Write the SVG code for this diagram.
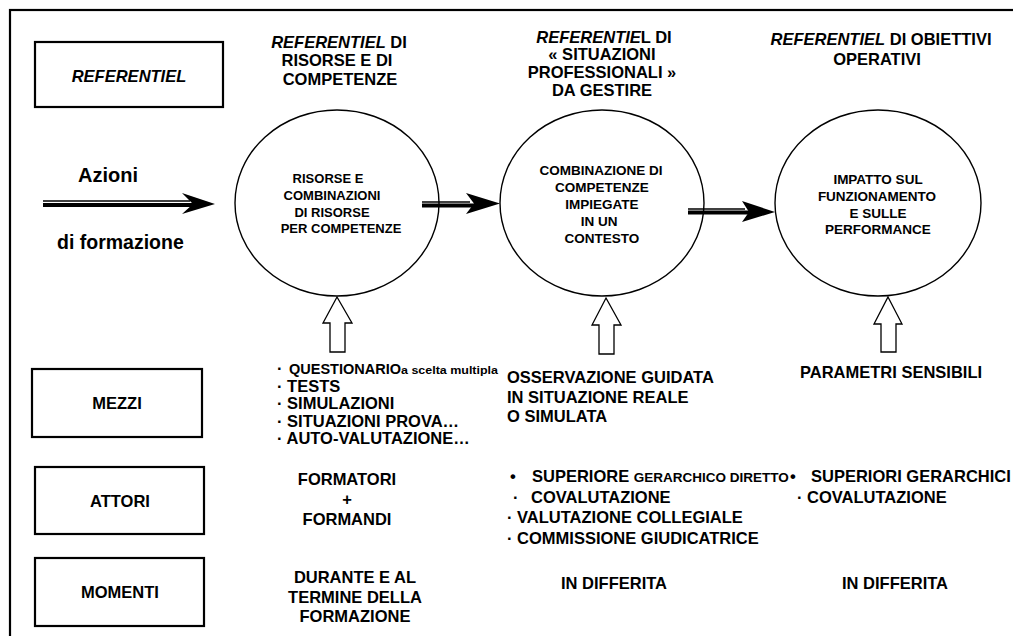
<svg xmlns="http://www.w3.org/2000/svg" width="1013" height="636" viewBox="0 0 1013 636">
  <style>
    text { font-family: "Liberation Sans", Arial, sans-serif; font-weight: bold; fill: #000; }
    .lbl { font-size: 16.5px; text-anchor: middle; }
    .hd { font-size: 16.5px; text-anchor: middle; }
    .el { font-size: 13.5px; text-anchor: middle; }
    .it { font-style: italic; }
    .tx { font-size: 16.5px; }
    .sm { font-size: 13.5px; }
    .box { fill: #fff; stroke: #000; stroke-width: 2.2; }
    .node { fill: #fff; stroke: #000; stroke-width: 1.4; }
    .up { fill: #fff; stroke: #000; stroke-width: 1.3; stroke-linejoin: miter; }
    .thin { stroke: #000; stroke-width: 1.3; fill: none; }
    .thick { stroke: #000; stroke-width: 4; fill: none; }
    .head { fill: #000; stroke: none; }
  </style>

  <!-- outer frame -->
  <rect x="10" y="10" width="1030" height="650" fill="#fff" stroke="#000" stroke-width="2.2"/>

  <!-- row headers -->
  <g id="box-referentiel">
    <rect class="box" x="35" y="42" width="188" height="65"/>
    <text class="lbl it" x="129" y="82">REFERENTIEL</text>
  </g>
  <g id="box-mezzi">
    <rect class="box" x="32" y="369" width="170" height="68"/>
    <text class="lbl" x="117" y="409">MEZZI</text>
  </g>
  <g id="box-attori">
    <rect class="box" x="35" y="467" width="169" height="67"/>
    <text class="lbl" x="120" y="507">ATTORI</text>
  </g>
  <g id="box-momenti">
    <rect class="box" x="35" y="558" width="169" height="68"/>
    <text class="lbl" x="120" y="598">MOMENTI</text>
  </g>

  <!-- column headings -->
  <g id="head-risorse">
    <text class="hd" x="339" y="48"><tspan class="it">REFERENTIEL</tspan>  DI</text>
    <text class="hd" x="337" y="66">RISORSE E DI</text>
    <text class="hd" x="340" y="85">COMPETENZE</text>
  </g>
  <g id="head-situazioni">
    <text class="hd" x="604" y="43"><tspan class="it">REFERENTIE</tspan>L DI</text>
    <text class="hd" x="602" y="60">« SITUAZIONI</text>
    <text class="hd" x="602" y="78">PROFESSIONALI »</text>
    <text class="hd" x="602" y="96">DA GESTIRE</text>
  </g>
  <g id="head-obiettivi">
    <text class="hd" x="881" y="45"><tspan class="it">REFERENTIEL</tspan>  DI OBIETTIVI</text>
    <text class="hd" x="877" y="65">OPERATIVI</text>
  </g>

  <!-- input label -->
  <g id="azioni">
    <text style="font-size:20px" x="78" y="182">Azioni</text>
    <text style="font-size:19.5px" x="57" y="249">di formazione</text>
  </g>

  <!-- stages -->
  <g id="stage-risorse">
    <ellipse class="node" cx="337" cy="203" rx="102" ry="93"/>
    <text class="el" style="font-size:13px" x="328" y="183">RISORSE E</text>
    <text class="el" style="font-size:13px" x="332" y="200">COMBINAZIONI</text>
    <text class="el" style="font-size:13px" x="332" y="217">DI RISORSE</text>
    <text class="el" style="font-size:13px" x="341" y="233">PER COMPETENZE</text>
  </g>
  <g id="stage-combinazione">
    <ellipse class="node" cx="602" cy="203" rx="102" ry="93"/>
    <text class="el" x="601" y="175">COMBINAZIONE DI</text>
    <text class="el" x="602" y="192">COMPETENZE</text>
    <text class="el" x="602" y="209">IMPIEGATE</text>
    <text class="el" x="599" y="226">IN UN</text>
    <text class="el" x="602" y="243">CONTESTO</text>
  </g>
  <g id="stage-impatto">
    <ellipse class="node" cx="878" cy="203" rx="103" ry="93"/>
    <text class="el" x="878" y="184">IMPATTO SUL</text>
    <text class="el" x="877" y="201">FUNZIONAMENTO</text>
    <text class="el" x="878" y="218">E SULLE</text>
    <text class="el" x="878" y="234">PERFORMANCE</text>
  </g>

  <!-- connectors -->
  <g id="connectors">
    <!-- double-shaft arrows -->
    <line class="thin" x1="43" y1="201" x2="190" y2="201"/>
    <line class="thick" x1="43" y1="205" x2="195" y2="205"/>
    <path class="head" d="M215,204 L182,193 L193,204 L182,214 Z"/>

    <line class="thin" x1="422" y1="202" x2="470" y2="202"/>
    <line class="thick" x1="422" y1="205.5" x2="475" y2="205.5"/>
    <path class="head" d="M500,203.5 L466,193 L474,203.5 L466,214 Z"/>

    <line class="thin" x1="688" y1="209" x2="745" y2="209"/>
    <line class="thick" x1="688" y1="212.5" x2="750" y2="212.5"/>
    <path class="head" d="M775,212 L742,201 L749,212 L742,222 Z"/>

    <!-- hollow up arrows -->
    <polygon class="up" points="337,297 352,323 345,323 345,352 330,352 330,323 323,323"/>
    <polygon class="up" points="606,298 621,325 614,325 614,354 599,354 599,325 592,325"/>
    <polygon class="up" points="888,297 902,324 896,324 896,352 881,352 881,324 874,324"/>
  </g>

  <!-- means -->
  <g id="mezzi-risorse">
    <text class="tx" x="277" y="374">·<tspan x="289" style="font-size:14.5px">QUESTIONARIO</tspan><tspan style="font-size:10.5px" textLength="97" lengthAdjust="spacingAndGlyphs">a scelta multipla</tspan></text>
    <text class="tx" x="277" y="392">· TESTS</text>
    <text class="tx" x="277" y="409">· SIMULAZIONI</text>
    <text class="tx" x="277" y="427">· SITUAZIONI PROVA…</text>
    <text class="tx" x="277" y="444">· AUTO-VALUTAZIONE…</text>
  </g>
  <g id="mezzi-combinazione">
    <text class="tx" x="507" y="383">OSSERVAZIONE GUIDATA</text>
    <text class="tx" x="507" y="403">IN SITUAZIONE REALE</text>
    <text class="tx" x="507" y="422">O SIMULATA</text>
  </g>
  <g id="mezzi-impatto">
    <text class="tx" x="800" y="378">PARAMETRI SENSIBILI</text>
  </g>

  <!-- actors -->
  <g id="attori-risorse">
    <text class="lbl" x="347" y="485">FORMATORI</text>
    <text class="lbl" x="347" y="505">+</text>
    <text class="lbl" x="347" y="525">FORMANDI</text>
  </g>
  <g id="attori-combinazione">
    <text class="tx" x="510" y="482">•</text>
    <text class="tx" x="532" y="482">SUPERIORE <tspan class="sm">GERARCHICO DIRETTO</tspan></text>
    <text class="tx" x="513" y="503">·</text>
    <text class="tx" x="531" y="503">COVALUTAZIONE</text>
    <text class="tx" x="507" y="523">· VALUTAZIONE COLLEGIALE</text>
    <text class="tx" x="507" y="544">· COMMISSIONE GIUDICATRICE</text>
  </g>
  <g id="attori-impatto">
    <text class="tx" x="790" y="482">•</text>
    <text class="tx" x="811" y="482">SUPERIORI GERARCHICI</text>
    <text class="tx" x="797" y="503">· COVALUTAZIONE</text>
  </g>

  <!-- timing -->
  <g id="momenti-risorse">
    <text class="lbl" x="355" y="583">DURANTE E AL</text>
    <text class="lbl" x="355" y="603">TERMINE DELLA</text>
    <text class="lbl" x="355" y="622">FORMAZIONE</text>
  </g>
  <g id="momenti-combinazione">
    <text class="lbl" x="614" y="589">IN DIFFERITA</text>
  </g>
  <g id="momenti-impatto">
    <text class="lbl" x="895" y="589">IN DIFFERITA</text>
  </g>
</svg>
